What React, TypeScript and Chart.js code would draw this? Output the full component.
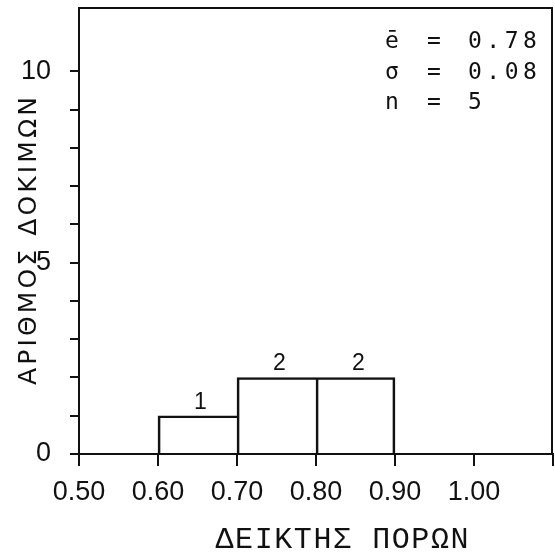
import React, { useEffect, useRef } from 'react';
import { Chart, registerables } from 'chart.js';

Chart.register(...registerables);

// ---- data ----
const binCenters = [0.65, 0.75, 0.85];
const binCounts = [1, 2, 2];
const xMin = 0.5;
const xMax = 1.1;
const xStep = 0.1;
const xLastLabel = 1.0;
const yMin = 0;
const yMax = 11.66;
const yStep = 1;
const yLabeled = [0, 5, 10];
const statSymbols = ['ē', 'σ', 'n'];
const statValues = ['0.78', '0.08', '5'];
const xTitle = 'ΔΕΙΚΤΗΣ ΠΟΡΩΝ';
const yTitle = 'ΑΡΙΘΜΟΣ ΔΟΚΙΜΩΝ';

// ---- style ----
const INK = '#111111';
const NUM_FONT = '"Liberation Sans", Arial, sans-serif';
const MONO = '"Liberation Mono", "Courier New", monospace';
const STAT_FONT = '"DejaVu Sans Mono", monospace';
const SANS = '"DejaVu Sans", "Noto Sans", sans-serif';

function spacedText(ctx: CanvasRenderingContext2D, text: string, cx: number, y: number, targetWidth: number) {
  (ctx as any).letterSpacing = '0px';
  const w = ctx.measureText(text).width;
  const n = Array.from(text).length;
  const sp = n > 1 ? (targetWidth - w) / (n - 1) : 0;
  (ctx as any).letterSpacing = sp + 'px';
  ctx.textAlign = 'left';
  ctx.fillText(text, cx - targetWidth / 2, y);
  (ctx as any).letterSpacing = '0px';
}

const overlay = {
  id: 'overlay',
  afterDraw(chart: any) {
    const { ctx, chartArea: a, scales } = chart;
    const xs = scales.x;
    const ys = scales.y;
    ctx.save();
    // frame (top + right)
    ctx.strokeStyle = INK;
    ctx.lineWidth = 2;
    ctx.beginPath();
    ctx.moveTo(a.left, a.top);
    ctx.lineTo(a.right, a.top);
    ctx.moveTo(a.right - 1, a.top);
    ctx.lineTo(a.right - 1, a.bottom);
    ctx.stroke();

    ctx.fillStyle = INK;
    // counts above bars
    ctx.font = `23px ${NUM_FONT}`;
    ctx.textAlign = 'center';
    ctx.textBaseline = 'alphabetic';
    binCenters.forEach((c, i) => {
      ctx.fillText(String(binCounts[i]), xs.getPixelForValue(c) + 3, ys.getPixelForValue(binCounts[i]) - 7);
    });

    // stats box
    ctx.font = `23px ${STAT_FONT}`;
    ctx.textAlign = 'left';
    statSymbols.forEach((s, i) => {
      const by = a.top + 40 + i * 30.5;
      ctx.fillText(s, a.right - 168, by);
      ctx.fillText('=', a.right - 126, by);
      (ctx as any).letterSpacing = '4.5px';
      ctx.fillText(statValues[i], a.right - 85, by);
      (ctx as any).letterSpacing = '0px';
    });

    // x title
    ctx.font = `30px ${MONO}`;
    ctx.textBaseline = 'alphabetic';
    spacedText(ctx, xTitle, 342, 548, 253);

    // y title
    ctx.save();
    ctx.translate(36, 241);
    ctx.rotate(-Math.PI / 2);
    ctx.font = `25px ${SANS}`;
    spacedText(ctx, yTitle, 0, 0, 288);
    ctx.restore();

    ctx.restore();
  },
};

export default function App() {
  const ref = useRef<HTMLCanvasElement | null>(null);

  useEffect(() => {
    if (!ref.current) return;
    const last = binCenters.length - 1;
    const chart = new Chart(ref.current, {
      type: 'bar',
      data: {
        datasets: [
          {
            data: binCenters.map((c, i) => ({ x: c, y: binCounts[i] })),
            backgroundColor: 'rgba(255,255,255,0)',
            borderColor: INK,
            borderWidth: (c: any) => ({ top: 2, left: 2, bottom: 0, right: c.dataIndex === last ? 2 : 0 }),
            borderSkipped: false,
            barPercentage: 1,
            categoryPercentage: 1,
          },
        ],
      },
      options: {
        animation: false,
        responsive: false,
        devicePixelRatio: 1,
        layout: { padding: { top: 8, right: 2, left: 0, bottom: 0 } },
        plugins: { legend: { display: false }, tooltip: { enabled: false } },
        scales: {
          x: {
            type: 'linear',
            min: xMin,
            max: xMax,
            offset: false,
            afterFit: (s: any) => {
              s.height = 103;
              s.paddingLeft = 0;
              s.paddingRight = 0;
            },
            ticks: {
              stepSize: xStep,
              autoSkip: false,
              maxRotation: 0,
              padding: 10,
              color: INK,
              font: { family: NUM_FONT, size: 27 },
              callback: (v: any) => (Number(v) > xLastLabel + 0.05 ? '' : Number(v).toFixed(2)),
            },
            grid: {
              offset: false,
              drawOnChartArea: false,
              drawTicks: true,
              tickLength: 12,
              lineWidth: 2,
              color: INK,
            },
            border: { display: true, color: INK, width: 2 },
          },
          y: {
            type: 'linear',
            min: yMin,
            max: yMax,
            afterFit: (s: any) => {
              s.width = 79;
              s.paddingTop = 0;
              s.paddingBottom = 0;
            },
            afterBuildTicks: (s: any) => {
              s.ticks = s.ticks.filter((t: any) => t.value <= Math.floor(yMax) + 1e-6);
            },
            ticks: {
              stepSize: yStep,
              autoSkip: false,
              padding: 19,
              color: INK,
              font: { family: NUM_FONT, size: 27 },
              callback: (v: any) => {
                const n = Number(v);
                const r = Math.round(n);
                return Math.abs(n - r) < 1e-6 && yLabeled.includes(r) ? String(r) : '';
              },
            },
            grid: {
              drawOnChartArea: false,
              drawTicks: true,
              tickLength: 9,
              lineWidth: 2,
              color: INK,
            },
            border: { display: true, color: INK, width: 2 },
          },
        },
      },
      plugins: [overlay],
    } as any);
    return () => chart.destroy();
  }, []);

  return (
    <div style={{ position: 'absolute', left: 0, top: 0, width: 555, height: 557, background: '#fff' }}>
      <canvas ref={ref} width={555} height={557} style={{ display: 'block' }} />
    </div>
  );
}
